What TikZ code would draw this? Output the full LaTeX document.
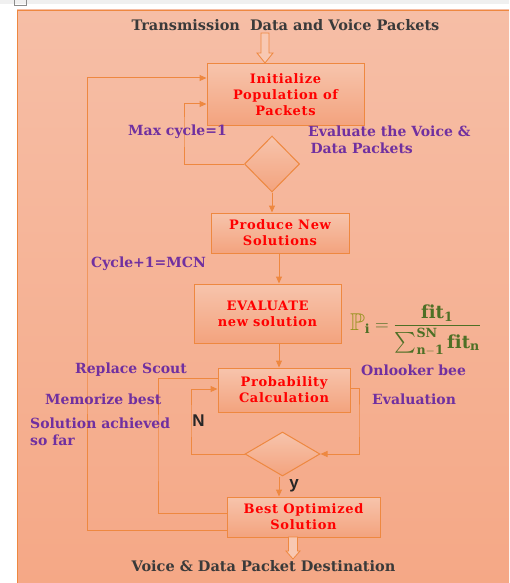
\documentclass[tikz,border=0pt]{standalone}
\usepackage{amsmath,amssymb}
\usepackage{graphicx}
\usepackage{fontspec}
\setmainfont{DejaVu Serif}
\newfontfamily\labsans{Liberation Sans}
\usetikzlibrary{arrows.meta,shapes.geometric,calc}
\definecolor{linec}{RGB}{238,136,64}
\definecolor{paneltop}{RGB}{246,190,166}
\definecolor{panelbot}{RGB}{245,168,134}
\definecolor{boxtop}{RGB}{247,196,172}
\definecolor{boxbot}{RGB}{243,163,126}
\definecolor{purp}{RGB}{112,48,160}
\definecolor{titlec}{RGB}{58,58,58}
\definecolor{formc}{RGB}{78,112,38}
\definecolor{formp}{RGB}{150,146,30}
\definecolor{hollowf}{RGB}{248,200,178}
\tikzset{
  box/.style={draw=linec, line width=1pt, top color=boxtop, bottom color=boxbot,
    inner sep=0pt, align=center, text=red,
    font=\fontsize{13}{16}\selectfont\bfseries\addfontfeatures{LetterSpace=5}},
  dia/.style={diamond, draw=linec, line width=1pt, top color=boxtop, bottom color=boxbot,
    inner sep=0pt},
  conn/.style={draw=linec, line width=1pt},
  arr/.style={conn, -{Triangle[length=7pt,width=6pt]}},
  plab/.style={text=purp, anchor=west, inner sep=0pt, align=left,
    font=\fontsize{14}{17}\selectfont\bfseries},
  ttl/.style={text=titlec, inner sep=0pt, font=\fontsize{14.5}{16}\selectfont\bfseries},
  yn/.style={text=black!85, inner sep=0pt, font=\fontsize{17}{18}\selectfont\labsans\bfseries},
  hollow/.style={draw=linec, line width=0.8pt, fill=hollowf},
}
\begin{document}
\begin{tikzpicture}[x=1pt,y=-1pt]
\useasboundingbox (0,0) rectangle (509,583);
% frame
\fill[white] (0,0) rectangle (509,583);
\fill[black!6] (0,0) rectangle (509,4);
\draw[black!45, line width=0.6pt] (14,0) -- (14,5) -- (26,5) -- (26,0);
\fill[top color=paneltop, bottom color=panelbot] (17,10) rectangle (509,583);
\draw[linec, line width=1pt] (17,583) -- (17,10.5) -- (509,10.5);

% nodes
\node[ttl] (title) at (285.5,25) {Transmission\ \ Data and Voice Packets};
\node[box, minimum width=157, minimum height=61] (init) at (285.5,94.5) {Initialize\\Population of\\Packets};
\node[dia, minimum width=55, minimum height=56] (d1) at (272,164) {};
\node[box, minimum width=138, minimum height=40] (prod) at (280,233) {Produce New\\Solutions};
\node[box, minimum width=147, minimum height=59] (eval) at (267.5,313.5) {EVALUATE\\new solution};
\node[box, minimum width=132, minimum height=44] (prob) at (284,390) {Probability\\Calculation};
\node[dia, minimum width=75, minimum height=44] (d2) at (282.5,454) {};
\node[box, minimum width=153, minimum height=40] (best) at (303.5,517) {Best Optimized\\Solution};

% coordinates
\coordinate (loopA) at (87,300);
\coordinate (loopB) at (184,130);
\coordinate (loopC) at (158,450);
\coordinate (loopD) at (191,420);
\coordinate (loopE) at (359,420);
\coordinate (cx279) at (279,0);
\coordinate (a1) at (265,33);
\coordinate (a2) at (293,537);

% hollow arrows
\draw[hollow] (a1) ++(-4,0) -- ++(8,0) -- ++(0,20) -- ++(4,0) -- ++(-8,10) -- ++(-8,-10) -- ++(4,0) -- cycle;
\draw[hollow] (a2) ++(-4.5,0) -- ++(9,0) -- ++(0,14) -- ++(2.5,0) -- ++(-7,8) -- ++(-7,-8) -- ++(2.5,0) -- cycle;

% connectors
\draw[arr] ($(best.west)+(0,13)$) -| (loopA) |- ($(init.west)+(0,-16.5)$);
\draw[arr] (d1.west) -| (loopB) |- ($(init.west)+(0,9.5)$);
\draw[arr] (d1.south) -- (d1.south |- prod.north);
\draw[arr] (prod.south -| cx279) -- (eval.north -| cx279);
\draw[arr] (eval.south -| cx279) -- (prob.north -| cx279);
\draw[conn] ($(best.west)+(0,-4)$) -| (loopC) |- ($(prob.west)+(0,-12)$);
\draw[arr] (d2.west) -| (loopD) |- ($(prob.west)+(0,-1)$);
\draw[arr] ($(prob.east)+(0,-2)$) -| (loopE) |- (d2.east);
\draw[arr] (d2.south -| cx279) -- (best.north -| cx279);

% labels
\node[plab] (lmax) at (128,132) {Max cycle=1};
\node[plab] (levalvd) at (308,140) {Evaluate the Voice \&\\\,Data Packets};
\node[plab] (lcycle) at (91,264) {Cycle+1=MCN};
\node[plab] (lrep) at (75,370) {Replace Scout};
\node[plab] (lonl) at (361,370) {Onlooker bee};
\node[plab] (lmem) at (45,399) {Memorize best};
\node[plab] (leval) at (372,399) {Evaluation};
\node[plab] (lsol) at (30,432) {Solution achieved\\so far};
\node[yn] (lN) at (198.5,421) {N};
\node[yn] (ly) at (294,486) {y};
\node[text=formc, inner sep=0pt] (form) at (415.5,330)
  {\fontsize{18}{20}\selectfont$\textcolor{formp}{\scalebox{1.35}{$\mathbb{P}$}}_{\mathbf{i}} \mathrel{\scalebox{1.1}{$=$}} \dfrac{\mathbf{fit}_{\mathbf{1}}}{\scalebox{1.15}{$\sum$}_{\mathbf{n-1}}^{\mathbf{SN}}\,\mathbf{fit}_{\mathbf{n}}}$};
\node[ttl] (dest) at (263.5,566) {Voice \& Data Packet Destination};
\end{tikzpicture}
\end{document}
